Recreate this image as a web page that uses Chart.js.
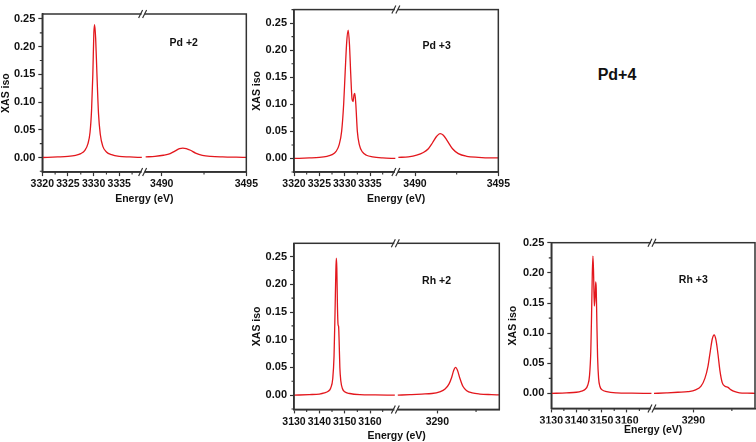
<!DOCTYPE html>
<html>
<head>
<meta charset="utf-8">
<script src="https://cdn.jsdelivr.net/npm/chart.js@4.4.1/dist/chart.umd.min.js"></script>
<style>
  html, body { margin: 0; padding: 0; background: #fff; overflow: hidden; }
  body { width: 756px; height: 442px; position: relative; font-family: "Liberation Sans", Arial, sans-serif; }
  .panel { position: absolute; }
  #pd4 { position: absolute; left: 577px; top: 66px; width: 80px; text-align: center; font-weight: bold; font-size: 16px; line-height: 18px; color: #111; }
</style>
</head>
<body>
<div class="panel" style="left:0px;top:0px;width:260px;height:210px"><canvas id="c1"></canvas></div>
<div class="panel" style="left:251.3px;top:0px;width:261px;height:210px"><canvas id="c2"></canvas></div>
<div class="panel" style="left:251.3px;top:230px;width:253px;height:212px"><canvas id="c3"></canvas></div>
<div class="panel" style="left:506.7px;top:230px;width:249.3px;height:212px"><canvas id="c4"></canvas></div>
<div id="pd4">Pd+4</div>
<script>
// Pd +2
var pd2LoE = [3320, 3323, 3325, 3326.5, 3327.5, 3328.3, 3328.9, 3329.3, 3329.6, 3329.85, 3330.05, 3330.2, 3330.4, 3330.65, 3330.95, 3331.3, 3331.8, 3332.5, 3333.5, 3335, 3337, 3339.4];
var pd2LoI = [0.000, 0.001, 0.002, 0.004, 0.007, 0.013, 0.025, 0.045, 0.085, 0.15, 0.225, 0.24, 0.215, 0.15, 0.08, 0.042, 0.02, 0.01, 0.005, 0.002, 0.001, 0.000];
var pd2HiE = [3489.05, 3489.6, 3490.1, 3490.5, 3490.8, 3491.05, 3491.25, 3491.45, 3491.7, 3492.0, 3492.4, 3492.9, 3493.6, 3494.4, 3495];
var pd2HiI = [0.001, 0.002, 0.004, 0.007, 0.012, 0.016, 0.017, 0.016, 0.013, 0.008, 0.004, 0.002, 0.001, 0.0005, 0.0003];
// Pd +3
var pd3LoE = [3320, 3323, 3325, 3326.5, 3327.5, 3328.3, 3328.9, 3329.4, 3329.8, 3330.1, 3330.4, 3330.7, 3330.95, 3331.2, 3331.45, 3331.65, 3331.85, 3332.0, 3332.2, 3332.5, 3332.9, 3333.5, 3334.3, 3335.5, 3337.5, 3340.0];
var pd3LoI = [0.000, 0.001, 0.002, 0.004, 0.007, 0.013, 0.025, 0.05, 0.1, 0.16, 0.215, 0.237, 0.21, 0.155, 0.11, 0.105, 0.118, 0.12, 0.1, 0.05, 0.025, 0.012, 0.006, 0.003, 0.001, 0.000];
var pd3HiE = [3489.0, 3489.6, 3490.1, 3490.5, 3490.8, 3491.05, 3491.3, 3491.5, 3491.7, 3491.95, 3492.25, 3492.6, 3493.1, 3493.8, 3494.5, 3495];
var pd3HiI = [0.002, 0.003, 0.006, 0.011, 0.018, 0.029, 0.041, 0.046, 0.043, 0.032, 0.018, 0.009, 0.004, 0.002, 0.001, 0.001];
// Rh +2
var rh2LoE = [3130, 3136, 3140, 3142, 3143.5, 3144.5, 3145.3, 3145.8, 3146.2, 3146.5, 3146.7, 3146.9, 3147.15, 3147.4, 3147.6, 3147.8, 3148.1, 3148.5, 3149.1, 3150, 3152, 3156, 3162, 3169.8];
var rh2LoI = [0, 0.001, 0.002, 0.004, 0.007, 0.013, 0.03, 0.07, 0.15, 0.22, 0.247, 0.23, 0.16, 0.127, 0.124, 0.1, 0.05, 0.025, 0.012, 0.006, 0.003, 0.001, 0.0005, 0];
var rh2HiE = [3284.9, 3286.5, 3288, 3289.3, 3290.3, 3291, 3291.5, 3291.85, 3292.1, 3292.35, 3292.6, 3292.9, 3293.3, 3293.8, 3294.5, 3295.5, 3297, 3298];
var rh2HiI = [0.000, 0.001, 0.002, 0.003, 0.006, 0.011, 0.02, 0.032, 0.044, 0.05, 0.045, 0.031, 0.016, 0.008, 0.004, 0.002, 0.001, 0.0005];
// Rh +3
var rh3LoE = [3130, 3136, 3140, 3142, 3143.5, 3144.5, 3145.2, 3145.7, 3146.0, 3146.3, 3146.55, 3146.8, 3147.1, 3147.4, 3147.65, 3147.85, 3148.1, 3148.4, 3148.8, 3149.3, 3150.2, 3152, 3156, 3162, 3169.8];
var rh3LoI = [0, 0.001, 0.002, 0.004, 0.007, 0.014, 0.03, 0.07, 0.13, 0.2, 0.228, 0.2, 0.145, 0.16, 0.185, 0.175, 0.12, 0.06, 0.025, 0.012, 0.006, 0.003, 0.001, 0.0005, 0];
var rh3HiE = [3284.9, 3286.5, 3288, 3289.3, 3290.3, 3291, 3291.5, 3291.9, 3292.2, 3292.45, 3292.7, 3292.95, 3293.2, 3293.45, 3293.75, 3294.1, 3294.5, 3294.9, 3295.4, 3296, 3297, 3298];
var rh3HiI = [0.000, 0.001, 0.002, 0.003, 0.006, 0.012, 0.025, 0.045, 0.07, 0.09, 0.097, 0.088, 0.065, 0.038, 0.018, 0.012, 0.01, 0.006, 0.003, 0.001, 0.0005, 0.0003];

var FONT = '"Liberation Sans", Arial, sans-serif';
var INK = '#111';
var AXIS = '#333';
var RED = '#e3171d';

var panels = [
  {id: 'c1', label: 'Pd +2', lo: [pd2LoE, pd2LoI], hi: [pd2HiE, pd2HiI], xLo: [3320, 3339.65], xHi: [3488.9, 3495], step: 5,
   y: [-0.0264, 0.259], w: [101, 103.4], pad: {left: 0, top: 14, right: 13.3, bottom: 4.7}, xh: 20.6, yw: 42.3, at: [3491.3, 0.206]},
  {id: 'c2', label: 'Pd +3', lo: [pd3LoE, pd3LoI], hi: [pd3HiE, pd3HiI], xLo: [3320, 3340.2], xHi: [3488.88, 3495], step: 5,
   y: [-0.0252, 0.275], w: [102.7, 102.3], pad: {left: 0, top: 5, right: 12.7, bottom: 4.7}, xh: 20.6, yw: 43, at: [3491.3, 0.208]},
  {id: 'c3', label: 'Rh +2', lo: [rh2LoE, rh2LoI], hi: [rh2HiE, rh2HiI], xLo: [3130, 3170.2], xHi: [3284.65, 3298], step: 10,
   y: [-0.0257, 0.274], w: [101.7, 103.3], pad: {left: 0, top: 13.3, right: 4.7, bottom: 0}, xh: 20, yw: 43, at: [3289.9, 0.206]},
  {id: 'c4', label: 'Rh +3', lo: [rh3LoE, rh3LoI], hi: [rh3HiE, rh3HiI], xLo: [3130, 3170.2], xHi: [3284.7, 3298], step: 10,
   y: [-0.0248, 0.2502], w: [101.3, 102.7], pad: {left: 0, top: 12.7, right: 1.3, bottom: 6}, xh: 15, yw: 44.3, at: [3290.0, 0.188]}
];

function pts(e, v) {
  return e.map(function(x, i) { return {x: x, y: v[i]}; });
}

// box, minor ticks, axis break marks and the panel label
var decor = {
  id: 'decor',
  afterDraw: function(chart, args, opts) {
    var ctx = chart.ctx, a = chart.chartArea;
    var xL = chart.scales.xL, xR = chart.scales.xR, y = chart.scales.y;
    ctx.save();
    ctx.strokeStyle = AXIS;
    ctx.lineWidth = 1.5;
    ctx.strokeRect(a.left, a.top, a.right - a.left, a.bottom - a.top);

    ctx.lineWidth = 1.1;
    ctx.beginPath();
    [xL, xR].forEach(function(s) {
      var m = opts.step / 2;
      for (var k = Math.ceil(s.min / m); k * m <= s.max; k++) {
        if (k % 2 === 0) continue;
        var px = s.getPixelForValue(k * m);
        if (px < s.left + 3 || px > s.right - 3) continue;
        ctx.moveTo(px, a.bottom); ctx.lineTo(px, a.bottom + 2.5);
      }
    });
    for (var k = Math.ceil(y.min / 0.025); k * 0.025 <= y.max; k++) {
      if (k % 2 === 0) continue;
      var py = y.getPixelForValue(k * 0.025);
      ctx.moveTo(a.left, py); ctx.lineTo(a.left - 2.5, py);
    }
    ctx.stroke();

    var bx = xL.right;
    ctx.fillStyle = '#fff';
    [a.top, a.bottom].forEach(function(yy) {
      ctx.fillRect(bx - 1.5, yy - 1.5, 3, 3);
    });
    ctx.beginPath();
    [a.top, a.bottom].forEach(function(yy) {
      [-2.5, 1.5].forEach(function(dx) {
        ctx.moveTo(bx + dx - 2, yy + 4);
        ctx.lineTo(bx + dx + 2, yy - 4);
      });
    });
    ctx.lineWidth = 1.2;
    ctx.stroke();

    ctx.fillStyle = INK;
    ctx.font = 'bold 10.5px ' + FONT;
    ctx.textAlign = 'center';
    ctx.textBaseline = 'middle';
    ctx.fillText(opts.label, xR.getPixelForValue(opts.at[0]), y.getPixelForValue(opts.at[1]));
    ctx.restore();
  }
};

function xAxis(p, range, weight, trimEnd) {
  return {
    type: 'linear', position: 'bottom', stack: 'x', stackWeight: weight,
    min: range[0], max: range[1],
    afterFit: function(s) { s.height = p.xh; },
    afterBuildTicks: function(s) {
      if (trimEnd) s.ticks = s.ticks.filter(function(t) { return t.value <= s.max - 0.5; });
    },
    ticks: {stepSize: p.step, includeBounds: false, autoSkip: false, maxRotation: 0, padding: 2,
      color: INK, font: {size: 10.5, weight: 'bold', family: FONT},
      callback: function(v) { return String(v); }},
    grid: {drawOnChartArea: false, tickLength: 4, tickWidth: 1.2, color: AXIS},
    border: {color: AXIS, width: 1.5}
  };
}

panels.forEach(function(p) {
  var line = {showLine: true, borderColor: RED, borderWidth: 1.3, pointRadius: 0, cubicInterpolationMode: 'monotone', yAxisID: 'y'};
  new Chart(document.getElementById(p.id), {
    type: 'scatter',
    data: {
      datasets: [
        Object.assign({data: pts(p.lo[0], p.lo[1]), xAxisID: 'xL'}, line),
        Object.assign({data: pts(p.hi[0], p.hi[1]), xAxisID: 'xR'}, line)
      ]
    },
    options: {
      responsive: true, maintainAspectRatio: false, animation: false,
      layout: {padding: p.pad, autoPadding: false},
      plugins: {
        legend: {display: false},
        tooltip: {enabled: false},
        title: {display: true, text: 'Energy (eV)', position: 'bottom', fullSize: false, padding: 0,
          color: INK, font: {size: 10.5, weight: 'bold', family: FONT}},
        decor: {label: p.label, at: p.at, step: p.step}
      },
      scales: {
        xL: xAxis(p, p.xLo, p.w[0], true),
        xR: xAxis(p, p.xHi, p.w[1], false),
        y: {
          type: 'linear', position: 'left', min: p.y[0], max: p.y[1],
          afterFit: function(s) { s.width = p.yw; },
          ticks: {stepSize: 0.05, includeBounds: false, padding: 3, color: INK,
            font: {size: 11, weight: 'bold', family: FONT},
            callback: function(v) { return v.toFixed(2); }},
          grid: {drawOnChartArea: false, tickLength: 4, tickWidth: 1.2, color: AXIS},
          border: {color: AXIS, width: 1.5},
          title: {display: true, text: 'XAS iso', padding: 0, color: INK, font: {size: 10.5, weight: 'bold', family: FONT}}
        }
      }
    },
    plugins: [decor]
  });
});
</script>
</body>
</html>
